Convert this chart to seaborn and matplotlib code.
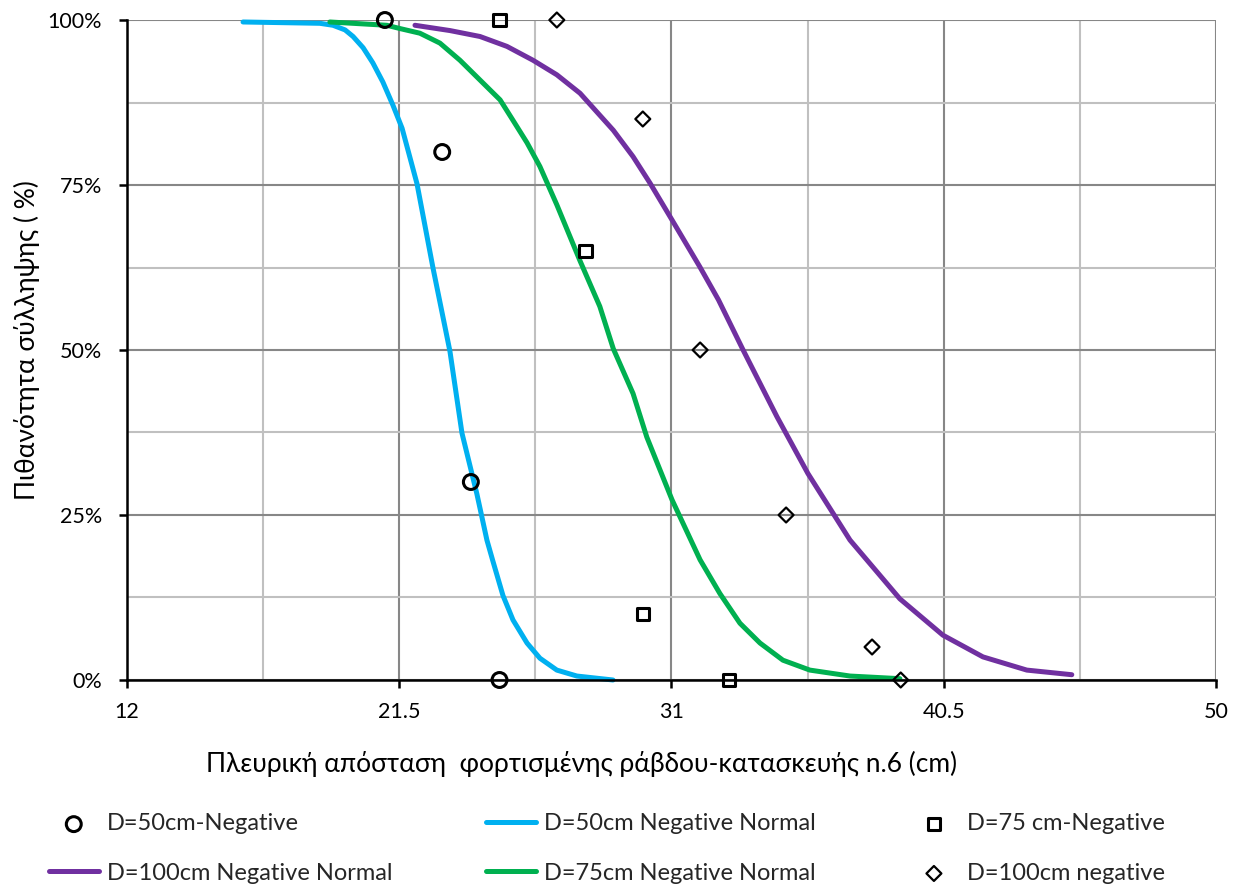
import numpy as np
import pandas as pd
import matplotlib.pyplot as plt
import seaborn as sns
from matplotlib.ticker import FixedLocator, FuncFormatter

# observed points
d50_x = [21.0, 23.0, 24.0, 25.0]
d50_y = [100, 80, 30, 0]
d75_x = [25.0, 28.0, 30.0, 33.0]
d75_y = [100, 65, 10, 0]
d100_x = [27.0, 30.0, 32.0, 35.0, 38.0, 39.0]
d100_y = [100, 85, 50, 25, 5, 0]

# normal fit curves
n50_x = [16.05, 18.73, 19.19, 19.61, 19.89, 20.24, 20.58, 20.93, 21.28, 21.60,
         22.12, 22.68, 23.27, 23.69, 24.21, 24.56, 24.77, 25.12, 25.47, 25.96,
         26.41, 27.0, 27.70, 28.96]
n50_y = [99.7, 99.5, 99.2, 98.5, 97.5, 95.8, 93.5, 90.6, 87.1, 83.6,
         75.2, 62.4, 49.8, 37.4, 28.2, 21.2, 18.0, 12.8, 9.1, 5.6,
         3.3, 1.5, 0.6, 0.0]
n75_x = [19.08, 21.07, 21.53, 22.22, 22.92, 23.62, 24.32, 25.02, 25.47, 25.96,
         26.41, 27.0, 27.81, 28.50, 28.97, 29.66, 30.14, 31.02, 32.0, 32.69,
         33.39, 34.09, 34.89, 35.83, 37.23, 38.97]
n75_y = [99.7, 99.2, 98.7, 98.0, 96.5, 93.9, 90.9, 87.9, 84.8, 81.4,
         77.8, 72.0, 63.5, 56.6, 50.2, 43.4, 36.8, 27.3, 18.2, 13.1,
         8.6, 5.6, 3.0, 1.5, 0.6, 0.2]
n100_x = [22.05, 23.27, 24.32, 25.26, 26.17, 27.0, 27.81, 28.97, 29.66, 30.25,
          31.02, 31.99, 32.64, 33.50, 34.68, 35.76, 37.23, 38.97, 40.47, 41.87,
          43.40, 44.97]
n100_y = [99.2, 98.4, 97.5, 96.0, 93.9, 91.7, 88.9, 83.3, 79.3, 75.3,
          69.7, 62.6, 57.6, 50.0, 39.9, 31.3, 21.2, 12.3, 6.8, 3.5,
          1.5, 0.8]

x_ticks = [12, 21.5, 31, 40.5, 50]
x_tick_labels = ["12", "21.5", "31", "40.5", "50"]
y_ticks = [0, 25, 50, 75, 100]

sns.set_theme(style="white")
plt.rcParams['font.family'] = ['Lato', 'Noto Sans', 'DejaVu Sans']

fig = plt.figure(figsize=(12.4, 8.89), dpi=100)
ax = fig.add_axes([0.1024, 0.2351, 0.8782, 0.7424])

sns.lineplot(x=n50_x, y=n50_y, color='#00b0f0', linewidth=3.6, ax=ax,
             label='D=50cm Negative Normal', clip_on=False)
sns.lineplot(x=n75_x, y=n75_y, color='#00b050', linewidth=3.6, ax=ax,
             label='D=75cm Negative Normal', clip_on=False)
sns.lineplot(x=n100_x, y=n100_y, color='#7030a0', linewidth=3.6, ax=ax,
             label='D=100cm Negative Normal', clip_on=False)

sns.scatterplot(x=d50_x, y=d50_y, marker='o', s=115, facecolors='none',
                edgecolors='black', linewidth=2.2, ax=ax, label='D=50cm-Negative',
                clip_on=False, zorder=5)
sns.scatterplot(x=d75_x, y=d75_y, marker='s', s=80, facecolors='none',
                edgecolors='black', linewidth=2.2, ax=ax, label='D=75 cm-Negative',
                clip_on=False, zorder=5)
sns.scatterplot(x=d100_x, y=d100_y, marker='D', s=58, facecolors='none',
                edgecolors='black', linewidth=1.6, ax=ax, label='D=100cm negative',
                clip_on=False, zorder=5)

ax.set_xlim(12, 50)
ax.set_ylim(0, 100)
ax.xaxis.set_major_locator(FixedLocator(x_ticks))
ax.xaxis.set_minor_locator(FixedLocator([16.75, 26.25, 35.75, 45.25]))
ax.set_xticklabels(x_tick_labels)
ax.yaxis.set_major_locator(FixedLocator(y_ticks))
ax.yaxis.set_minor_locator(FixedLocator([12.5, 37.5, 62.5, 87.5]))
ax.yaxis.set_major_formatter(FuncFormatter(lambda v, p: f"{v:.0f}%"))

ax.grid(which='major', color='#878787', linewidth=1.5)
ax.grid(which='minor', color='#c0c0c0', linewidth=1.5)
ax.set_axisbelow(True)

for side in ['top', 'right']:
    ax.spines[side].set_visible(False)
for side in ['left', 'bottom']:
    ax.spines[side].set_color('black')
    ax.spines[side].set_linewidth(1.8)

ax.tick_params(which='major', direction='out', length=6, width=1.8, color='black',
               labelsize=15.5, labelcolor='black', left=True, bottom=True)
ax.tick_params(axis='x', which='major', pad=10)
ax.tick_params(axis='y', which='major', pad=12)
ax.tick_params(which='minor', length=0)

ax.set_xlabel('Πλευρική απόσταση  φορτισμένης ράβδου-κατασκευής n.6 (cm)',
              fontsize=19, color='black')
ax.xaxis.set_label_coords(0.417, -0.108)
ax.set_ylabel('Πιθανότητα σύλληψης ( %)', fontsize=19, color='black')
ax.yaxis.set_label_coords(-0.08, 0.515)

handles, labels = ax.get_legend_handles_labels()
if ax.get_legend() is not None:
    ax.get_legend().remove()
lookup = dict(zip(labels, handles))
order = ['D=50cm-Negative', 'D=100cm Negative Normal',
         'D=50cm Negative Normal', 'D=75cm Negative Normal',
         'D=75 cm-Negative', 'D=100cm negative']
fig.legend([lookup[k] for k in order], order, ncol=3, loc='lower left',
           bbox_to_anchor=(0.0395, 0.006, 0.9, 0.12), mode='expand', frameon=False,
           fontsize=17, handlelength=2.1, handletextpad=0.35, labelspacing=1.2,
           borderpad=0, borderaxespad=0, scatterpoints=1)

fig.savefig('out.png', dpi=100)
